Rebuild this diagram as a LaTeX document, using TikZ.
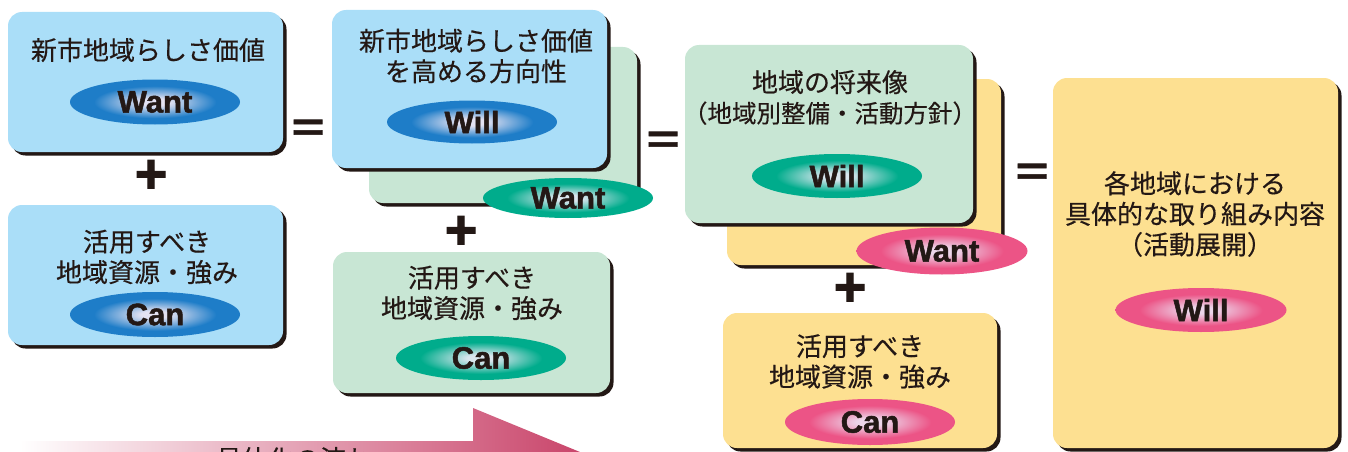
\documentclass[tikz,border=0pt]{standalone}
\usepackage{fontspec}
\usetikzlibrary{shadows,shapes.geometric}
\newfontfamily\jp{Noto Sans CJK JP}[FakeBold=0.35]
\newfontfamily\lat{Liberation Sans}[BoldFeatures={FakeBold=1.6}]
\definecolor{bluebox}{RGB}{170,222,248}
\definecolor{greenbox}{RGB}{200,230,212}
\definecolor{yellowbox}{RGB}{253,224,145}
\definecolor{shadowc}{RGB}{35,24,21}
\definecolor{blueedge}{RGB}{30,125,200}
\definecolor{bluecenter}{RGB}{228,226,242}
\definecolor{greenedge}{RGB}{0,172,140}
\definecolor{greencenter}{RGB}{218,230,238}
\definecolor{pinkedge}{RGB}{236,84,134}
\definecolor{pinkcenter}{RGB}{236,214,234}
\definecolor{arrowdark}{RGB}{198,58,98}
\pgfdeclareradialshading{bluesh}{\pgfpoint{0bp}{0bp}}{color(0bp)=(bluecenter); color(4bp)=(bluecenter); color(18bp)=(blueedge); color(50bp)=(blueedge)}
\pgfdeclareradialshading{greensh}{\pgfpoint{0bp}{0bp}}{color(0bp)=(greencenter); color(4bp)=(greencenter); color(18bp)=(greenedge); color(50bp)=(greenedge)}
\pgfdeclareradialshading{pinksh}{\pgfpoint{0bp}{0bp}}{color(0bp)=(pinkcenter); color(4bp)=(pinkcenter); color(18bp)=(pinkedge); color(50bp)=(pinkedge)}
\begin{document}
\begin{tikzpicture}[x=1pt,y=-1pt,
  box/.style={rectangle, rounded corners=14pt, draw=none, inner sep=0pt,
    drop shadow={opacity=1, fill=shadowc, shadow xshift=3.5pt, shadow yshift=-3.5pt}},
  bluebx/.style={box, fill=bluebox},
  greenbx/.style={box, fill=greenbox},
  yellowbx/.style={box, fill=yellowbox},
  jtxt/.style={align=center, text=shadowc, font=\jp\fontsize{26}{30.5}\selectfont, inner sep=0pt},
  ell/.style={ellipse, inner sep=0pt, minimum width=170pt, minimum height=45pt, text=shadowc,
    font=\lat\bfseries\fontsize{31}{31}\selectfont},
  blueell/.style={ell, shading=bluesh},
  greenell/.style={ell, shading=greensh},
  pinkell/.style={ell, shading=pinksh},
  sym/.style={text=shadowc, font=\lat\bfseries\fontsize{56}{56}\selectfont, inner sep=0pt}
]
\useasboundingbox (0,0) rectangle (1348,452);
\clip (0,0) rectangle (1348,452);

% flow arrow
\shade[left color=white, right color=arrowdark]
  (20,441) -- (473,441) -- (473,408) -- (614,466) -- (473,524) -- (473,491) -- (20,491) -- cycle;
\node[jtxt] (flow) at (294,459) {具体化の流れ};

% column 1
\node[bluebx, minimum width=275pt, minimum height=140pt] (b1) at (145.5,82) {};
\node[jtxt] (t1) at (148,50) {新市地域らしさ価値};
\node[blueell] (e1) at (155,102) {Want};
\node[sym] (p1) at (151,176.5) {+};
\node[bluebx, minimum width=275pt, minimum height=140pt] (b2) at (145.5,275) {};
\node[jtxt] (t2) at (147,257) {活用すべき\\地域資源・強み};
\node[blueell] (e2) at (155,314.5) {Can};

\node[sym] (q1) at (308,130) {\scalebox{1}[0.7]{=}};

% column 2
\node[greenbx, minimum width=268pt, minimum height=156pt] (b3b) at (503,125) {};
\node[bluebx, minimum width=275pt, minimum height=158pt] (b3) at (469.5,89) {};
\node[jtxt] (t3) at (476,56) {新市地域らしさ価値\\を高める方向性};
\node[blueell, minimum height=43pt] (e3) at (472,122) {Will};
\node[greenell, minimum height=40pt] (e3b) at (568,198) {Want};
\node[sym] (p2) at (461,232.5) {+};
\node[greenbx, minimum width=277pt, minimum height=141pt] (b4) at (471.5,322.5) {};
\node[jtxt] (t4) at (472,293) {活用すべき\\地域資源・強み};
\node[greenell, minimum height=44pt] (e4) at (481,358) {Can};

\node[sym] (q2) at (663,142) {\scalebox{1}[0.7]{=}};

% column 3
\node[yellowbx, minimum width=274pt, minimum height=186pt] (b5b) at (864,172) {};
\node[greenbx, minimum width=288pt, minimum height=178pt] (b5) at (829,134) {};
\node[jtxt] (t5) at (830,97.5) {地域の将来像\\{\fontsize{24.5}{30.5}\selectfont（地域別整備・活動方針）}};
\node[greenell, minimum height=44pt] (e5) at (837,176) {Will};
\node[pinkell, minimum width=171pt, minimum height=47pt] (e5b) at (942,251) {Want};
\node[sym] (p3) at (850,289.5) {+};
\node[yellowbx, minimum width=274pt, minimum height=135pt] (b6) at (860,380.5) {};
\node[jtxt] (t6) at (860,361.5) {活用すべき\\地域資源・強み};
\node[pinkell, minimum height=46pt] (e6) at (870,422) {Can};

\node[sym] (q3) at (1032,174) {\scalebox{1}[0.7]{=}};

% column 4
\node[yellowbx, minimum width=285pt, minimum height=370pt] (b7) at (1195.5,263) {};
\node[jtxt] (t7) at (1195,214) {各地域における\\具体的な取り組み内容\\（活動展開）};
\node[pinkell, minimum width=171pt, minimum height=44pt] (e7) at (1201,310) {Will};
\end{tikzpicture}
\end{document}
